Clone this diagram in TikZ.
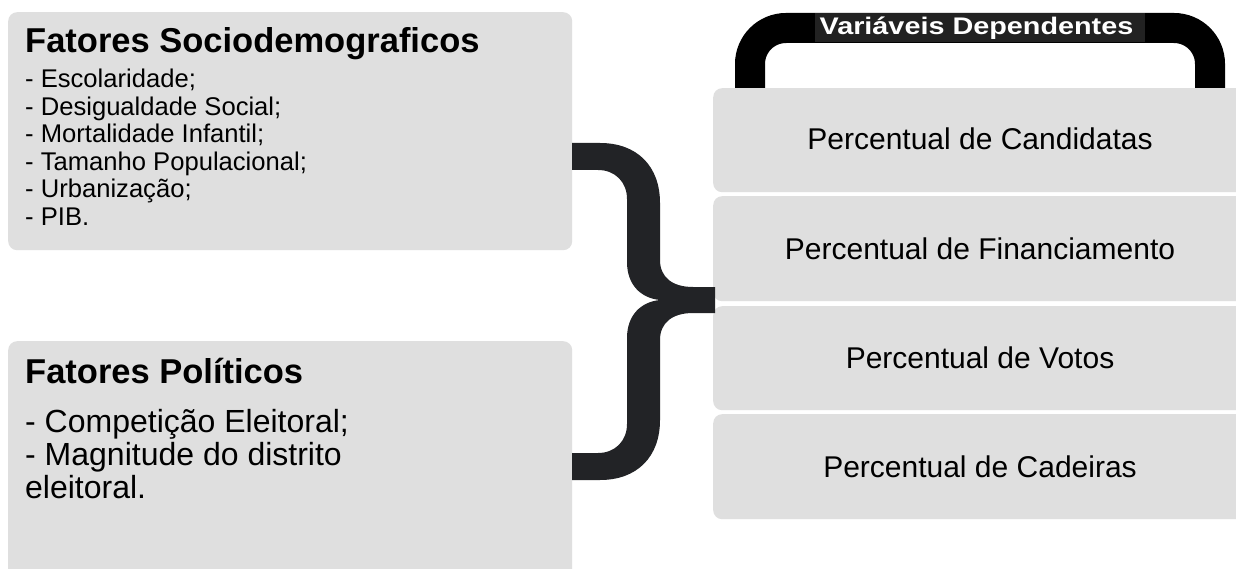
\documentclass[tikz,border=0pt]{standalone}
\usepackage{fontspec}
\usepackage{graphicx}
\setmainfont{Liberation Sans}
\definecolor{boxgray}{HTML}{DFDFDF}
\definecolor{bracecol}{HTML}{222326}
\definecolor{labelbg}{HTML}{222222}
\tikzset{
  panel/.style={fill=boxgray, draw=none, rounded corners=9pt, inner sep=0pt, anchor=north west},
  titletxt/.style={font=\fontsize{34.5}{36}\selectfont\bfseries, anchor=base west, inner sep=0pt, text=black},
  itemtxt/.style={font=\fontsize{25.6}{27}\selectfont, anchor=base west, inner sep=0pt, text=black},
  bigitem/.style={font=\fontsize{32}{33}\selectfont, anchor=base west, inner sep=0pt, text=black},
  vartxt/.style={font=\fontsize{30}{32}\selectfont, anchor=base, inner sep=0pt, text=black},
}
\begin{document}
\begin{tikzpicture}[x=1pt,y=-1pt]
\useasboundingbox (0,0) rectangle (1236,569);
\clip (0,0) rectangle (1236,569);
\fill[white] (0,0) rectangle (1236,569);

% left panels
\node[panel, minimum width=564pt, minimum height=238pt] (soc) at (8,12) {};
\node[panel, minimum width=564pt, minimum height=260pt] (pol) at (8,341) {};

\node[titletxt] (soct) at (25,53) {Fatores Sociodemograficos};
\node[itemtxt] (s1) at (25,88) {- Escolaridade;};
\node[itemtxt] (s2) at (25,115.5) {- Desigualdade Social;};
\node[itemtxt] (s3) at (25,143) {- Mortalidade Infantil;};
\node[itemtxt] (s4) at (25,170.5) {- Tamanho Populacional;};
\node[itemtxt] (s5) at (25,198) {- Urbanização;};
\node[itemtxt] (s6) at (25,225.5) {- PIB.};

\node[titletxt] (polt) at (25,383) {Fatores Políticos};
\node[bigitem] (p1) at (25,432) {- Competição Eleitoral;};
\node[bigitem] (p2) at (25,465) {- Magnitude do distrito};
\node[bigitem] (p3) at (25,498) {eleitoral.};

% right panels
\node[panel, minimum width=534pt, minimum height=104pt] (v1) at (713,88) {};
\node[panel, minimum width=534pt, minimum height=105pt] (v2) at (713,196) {};
\node[panel, minimum width=534pt, minimum height=104pt] (v3) at (713,306) {};
\node[panel, minimum width=534pt, minimum height=105pt] (v4) at (713,414) {};

\node[vartxt] (v1t) at (980,150) {Percentual de Candidatas};
\node[vartxt] (v2t) at (980,259) {Percentual de Financiamento};
\node[vartxt] (v3t) at (980,368) {Percentual de Votos};
\node[vartxt] (v4t) at (980,477) {Percentual de Cadeiras};

% top bracket
\begin{scope}
\clip (700,0) rectangle (1236,88);
\draw[black, line width=30pt, rounded corners=36pt] (750,100) -- (750,28) -- (1210,28) -- (1210,100);
\end{scope}
\fill[labelbg] (815,13) rectangle (1145,42);
\node[font=\fontsize{24}{26}\selectfont\bfseries, text=white, anchor=base, inner sep=0pt] (lbl) at (976.5,35) {\scalebox{1.2}[1]{Variáveis Dependentes}};

% curly brace
\fill[bracecol] (572,143) -- (600,143) .. controls (637,143) and (660,166) .. (660,203)
  -- (660,260) .. controls (660,277) and (672,287) .. (693,287) -- (715,287) -- (715,313)
  -- (693,313) .. controls (672,313) and (660,323) .. (660,340)
  -- (660,420) .. controls (660,457) and (637,480) .. (600,480) -- (572,480) -- (572,453)
  -- (598,453) .. controls (615,453) and (627,441) .. (627,424)
  -- (627,338) .. controls (627,316) and (640,302) .. (660,300)
  .. controls (640,298) and (627,284) .. (627,262)
  -- (627,199) .. controls (627,182) and (615,170) .. (598,170) -- (572,170) -- cycle;
\end{tikzpicture}
\end{document}
